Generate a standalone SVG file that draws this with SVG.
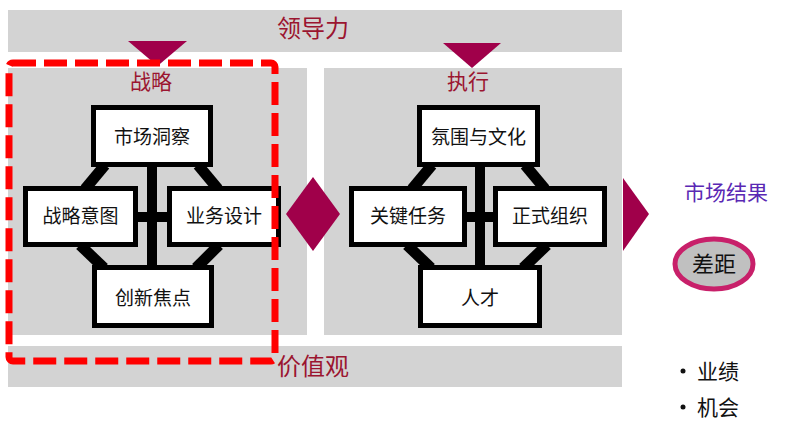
<svg xmlns="http://www.w3.org/2000/svg" width="789" height="439" viewBox="0 0 789 439">
<style>
.panel{fill:#d3d3d3}
.mark{fill:#a0004a}
.box{fill:#ffffff;stroke:#000000;stroke-width:5}
.bt{font-family:"Noto Sans CJK SC","Noto Sans CJK JP",sans-serif;font-size:19px;fill:#111111;text-anchor:middle}
.head{font-family:"Noto Sans CJK SC","Noto Sans CJK JP",sans-serif;fill:#9b1530;text-anchor:middle}
.conn{stroke:#000000;fill:none}
.side{font-family:"Noto Sans CJK SC","Noto Sans CJK JP",sans-serif;font-size:21px;fill:#111111}
</style>
<rect width="789" height="439" fill="#ffffff"/>
<g id="bands">
<rect class="panel" x="8" y="10" width="614" height="42"/>
<rect class="panel" x="8" y="68" width="299" height="267"/>
<rect class="panel" x="324" y="68" width="298" height="267"/>
<rect class="panel" x="8" y="346" width="614" height="41"/>
<text class="head" x="313" y="37" font-size="24">领导力</text>
<text class="head" x="313" y="375" font-size="24">价值观</text>
<text class="head" x="151" y="89" font-size="21">战略</text>
<text class="head" x="468" y="89" font-size="21">执行</text>
</g>
<g id="markers">
<polygon class="mark" points="128,41 187,41 157.5,66"/>
<polygon class="mark" points="443,43 501,43 472,68"/>
<polygon class="mark" points="313,177 340,214 313,251 286,214"/>
<polygon class="mark" points="623,178 649,214 623,251"/>
</g>
<g id="connectors">
<g class="conn">
<line x1="152" y1="165" x2="152" y2="268" stroke-width="10"/>
<line x1="136" y1="217" x2="170" y2="217" stroke-width="10"/>
<line x1="105" y1="165" x2="85" y2="189" stroke-width="11"/>
<line x1="198" y1="165" x2="218" y2="189" stroke-width="11"/>
<line x1="80" y1="245" x2="104" y2="268" stroke-width="11"/>
<line x1="219" y1="245" x2="196" y2="268" stroke-width="11"/>
<line x1="480" y1="165" x2="480" y2="268" stroke-width="10"/>
<line x1="463" y1="217" x2="497" y2="217" stroke-width="10"/>
<line x1="432" y1="165" x2="412" y2="189" stroke-width="11"/>
<line x1="525" y1="165" x2="545" y2="189" stroke-width="11"/>
<line x1="407" y1="245" x2="431" y2="268" stroke-width="11"/>
<line x1="547" y1="245" x2="523" y2="268" stroke-width="11"/>
</g>
</g>
<g id="node-market-insight"><rect class="box" x="93.5" y="107.5" width="117" height="57"/><text class="bt" x="152" y="144">市场洞察</text></g>
<g id="node-strategic-intent"><rect class="box" x="25.5" y="188.5" width="110" height="56"/><text class="bt" x="80.5" y="223">战略意图</text></g>
<g id="node-business-design"><rect class="box" x="169.5" y="188.5" width="109" height="56"/><text class="bt" x="224" y="223">业务设计</text></g>
<g id="node-innovation-focus"><rect class="box" x="94.5" y="267.5" width="117" height="58"/><text class="bt" x="153" y="305">创新焦点</text></g>
<g id="node-culture"><rect class="box" x="419.5" y="107.5" width="118" height="57"/><text class="bt" x="478.5" y="144">氛围与文化</text></g>
<g id="node-key-tasks"><rect class="box" x="351.5" y="188.5" width="113" height="56"/><text class="bt" x="408" y="223">关键任务</text></g>
<g id="node-formal-org"><rect class="box" x="495.5" y="188.5" width="109" height="56"/><text class="bt" x="550" y="223">正式组织</text></g>
<g id="node-talent"><rect class="box" x="420.5" y="267.5" width="119" height="58"/><text class="bt" x="480" y="305">人才</text></g>
<g id="strategy-highlight">
<rect x="9" y="63" width="266" height="298" rx="4" fill="none" stroke="#ff0000" stroke-width="7" stroke-dasharray="23 8"/>
</g>
<g id="node-market-results"><text x="726" y="200" font-family="'Noto Sans CJK SC','Noto Sans CJK JP',sans-serif" font-size="21" fill="#5a28b4" text-anchor="middle">市场结果</text></g>
<g id="node-gap">
<ellipse cx="714" cy="264" rx="39" ry="25" fill="#c0c0c0" stroke="#c8206a" stroke-width="5"/>
<text x="714" y="272" font-family="'Noto Sans CJK SC','Noto Sans CJK JP',sans-serif" font-size="22" fill="#111111" text-anchor="middle">差距</text>
</g>
<g id="node-bullets">
<circle cx="683" cy="371" r="2.5" fill="#111111"/>
<text class="side" x="697" y="379">业绩</text>
<circle cx="683" cy="407" r="2.5" fill="#111111"/>
<text class="side" x="697" y="415">机会</text>
</g>
</svg>
